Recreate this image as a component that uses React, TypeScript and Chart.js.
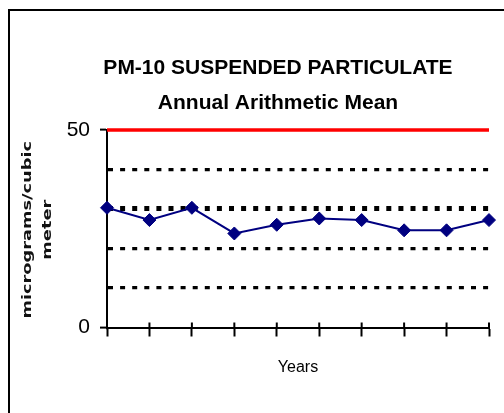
import { useEffect, useRef } from 'react';
import { Chart, registerables } from 'chart.js';

Chart.register(...registerables);

const FONT = '"Liberation Sans", Arial, sans-serif';

const YEARS = ['1', '2', '3', '4', '5', '6', '7', '8', '9', '10'];
const PM10_MEAN = [30.3, 27.2, 30.3, 23.8, 26.0, 27.6, 27.2, 24.6, 24.6, 27.2];
const STANDARD = [50, 50, 50, 50, 50, 50, 50, 50, 50, 50];
const Y_LABELED_TICKS = [0, 50];
const TITLE_LINES = ['PM-10 SUSPENDED PARTICULATE', 'Annual Arithmetic Mean'];
const Y_TITLE_LINES = ['micrograms/cubic', 'meter'];
const X_TITLE = 'Years';

const yTitlePlugin = {
  id: 'yTitleBlock',
  afterDraw(chart: any) {
    const { ctx, chartArea } = chart;
    const cy = (chartArea.top + chartArea.bottom) / 2 + 1;
    ctx.save();
    ctx.font = 'bold 12px "DejaVu Sans", sans-serif';
    ctx.fillStyle = '#111';
    ctx.textAlign = 'center';
    ctx.textBaseline = 'middle';
    Y_TITLE_LINES.forEach((t, i) => {
      ctx.save();
      ctx.translate(28 + i * 20, cy);
      ctx.rotate(-Math.PI / 2);
      ctx.scale(1.48, 1.05);
      ctx.fillText(t, 0, 0);
      ctx.restore();
    });
    ctx.restore();
  },
};

const crossTickPlugin = {
  id: 'crossTicks',
  afterDraw(chart: any) {
    const { ctx, chartArea } = chart;
    const xs = chart.scales.x;
    ctx.save();
    ctx.strokeStyle = '#000';
    ctx.lineWidth = 2;
    xs.ticks.forEach((_t: any, i: number) => {
      const x = xs.getPixelForTick(i);
      ctx.beginPath();
      ctx.moveTo(x, chartArea.bottom - 5);
      ctx.lineTo(x, chartArea.bottom);
      ctx.stroke();
    });
    ctx.restore();
  },
};

export default function App() {
  const ref = useRef<HTMLCanvasElement | null>(null);

  useEffect(() => {
    if (!ref.current) return;
    const chart = new Chart(ref.current, {
      type: 'line',
      data: {
        labels: YEARS,
        datasets: [
          {
            label: 'PM-10',
            data: PM10_MEAN,
            borderColor: '#000080',
            backgroundColor: '#000080',
            borderWidth: 2,
            pointStyle: 'rectRot',
            pointRadius: 6.5,
            pointBackgroundColor: '#000080',
            pointBorderColor: '#000080',
            pointBorderWidth: 1,
            tension: 0,
            clip: false as any,
          },
          {
            label: 'Standard',
            data: STANDARD,
            borderColor: '#ff0000',
            borderWidth: 3.5,
            pointRadius: 0,
            tension: 0,
            clip: false as any,
          },
        ],
      },
      options: {
        responsive: false,
        animation: false,
        devicePixelRatio: 1,
        layout: { padding: { left: 67, right: 15, top: 0, bottom: 0 } },
        plugins: {
          legend: { display: false },
          tooltip: { enabled: false },
          title: {
            display: true,
            text: TITLE_LINES,
            color: '#000',
            font: { family: FONT, size: 21, weight: 'bold', lineHeight: 1.69 },
            padding: { top: 50.25, bottom: 8.75 },
          },
        },
        scales: {
          x: {
            type: 'category',
            offset: false,
            grid: {
              display: true,
              drawOnChartArea: false,
              drawTicks: true,
              tickLength: 9,
              tickWidth: 2,
              tickColor: '#000',
            },
            border: { display: true, color: '#000', width: 2 },
            ticks: { display: false },
            title: {
              display: true,
              text: X_TITLE,
              color: '#000',
              font: { family: FONT, size: 16 },
              padding: { top: 0, bottom: 35.4 },
            },
            afterFit: (s: any) => { s.height = 85.5; },
          },
          y: {
            min: 0,
            max: 50,
            ticks: {
              stepSize: 10,
              padding: 10,
              color: '#000',
              font: { family: FONT, size: 21 },
              callback: (v: any) => (Y_LABELED_TICKS.includes(Number(v)) ? String(v) : ''),
            },
            grid: {
              color: (c: any) => {
                const v = c.tick ? c.tick.value : null;
                return v !== null && v > 0 && v < 50 ? '#000' : 'rgba(0,0,0,0)';
              },
              lineWidth: (c: any) => (c.tick && c.tick.value === 30 ? 5 : 3.2),
              tickLength: 7,
              tickWidth: 2,
              tickColor: (c: any) =>
                c.tick && Y_LABELED_TICKS.includes(c.tick.value) ? '#000' : 'rgba(0,0,0,0)',
            },
            border: { display: true, color: '#000', width: 2, dash: [5, 7.1] },
            afterFit: (s: any) => { s.width = 40; },
          },
        },
      } as any,
      plugins: [yTitlePlugin, crossTickPlugin],
    });
    return () => chart.destroy();
  }, []);

  return (
    <div>
      <div
        style={{
          position: 'absolute',
          left: 8,
          top: 9,
          width: 496,
          height: 404,
          boxSizing: 'border-box',
          borderTop: '2px solid #000',
          borderLeft: '2px solid #000',
        }}
      />
      <canvas
        ref={ref}
        width={504}
        height={413}
        style={{ position: 'absolute', left: 0, top: 0 }}
      />
    </div>
  );
}
